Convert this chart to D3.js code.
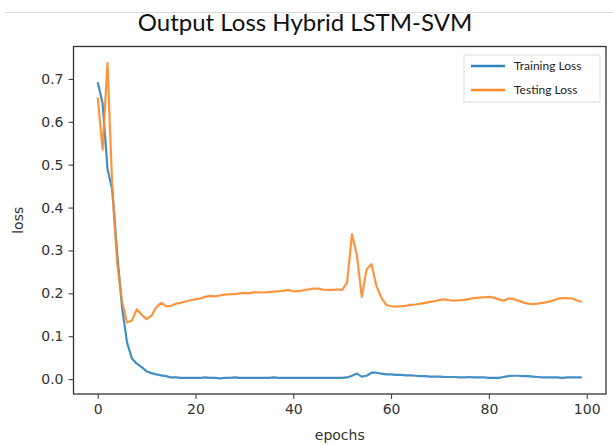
<!DOCTYPE html>
<meta charset="utf-8">
<style>
body { margin: 0; background: #fff; }
svg { display: block; }
.tick text { font-family: "DejaVu Sans", sans-serif; font-size: 14px; fill: #333; }
.tick line { stroke: #333; }
.domain { display: none; }
.lbl { font-family: "DejaVu Sans", sans-serif; font-size: 14px; fill: #333; }
.title { font-family: Lato, "Open Sans", sans-serif; font-size: 24px; fill: #111; }
.legend text { font-family: Lato, "Open Sans", sans-serif; font-size: 12px; fill: #222; }
</style>
<svg width="613" height="445"></svg>
<script src="https://d3js.org/d3.v7.min.js"></script>
<script>

var epochs = d3.range(0, 100);

var trainLoss = [
  0.692, 0.643, 0.49, 0.44, 0.29, 0.165, 0.085, 0.048, 0.036, 0.028,
  0.018, 0.014, 0.011, 0.009, 0.007, 0.004, 0.004, 0.003, 0.003, 0.003,
  0.003, 0.003, 0.004, 0.003, 0.003, 0.002, 0.003, 0.003, 0.004, 0.003,
  0.003, 0.003, 0.003, 0.003, 0.003, 0.003, 0.004, 0.003, 0.003, 0.003,
  0.003, 0.003, 0.003, 0.003, 0.003, 0.003, 0.003, 0.003, 0.003, 0.003,
  0.003, 0.004, 0.008, 0.013, 0.006, 0.008, 0.015, 0.015, 0.013, 0.011,
  0.011, 0.010, 0.010, 0.009, 0.009, 0.008, 0.007, 0.007, 0.006, 0.006,
  0.006, 0.005, 0.005, 0.005, 0.004, 0.004, 0.005, 0.004, 0.004, 0.004,
  0.003, 0.003, 0.003, 0.005, 0.007, 0.008, 0.008, 0.007, 0.007, 0.006,
  0.005, 0.004, 0.004, 0.004, 0.004, 0.003, 0.004, 0.004, 0.004, 0.004
];

var testLoss = [
  0.657, 0.535, 0.737, 0.44, 0.27, 0.18, 0.132, 0.137, 0.163, 0.15,
  0.14, 0.148, 0.168, 0.178, 0.17, 0.171, 0.176, 0.178, 0.181, 0.184,
  0.186, 0.188, 0.192, 0.194, 0.193, 0.195, 0.197, 0.198, 0.198, 0.2,
  0.201, 0.2, 0.203, 0.202, 0.202, 0.203, 0.204, 0.205, 0.206, 0.208,
  0.205, 0.205, 0.207, 0.209, 0.211, 0.211, 0.209, 0.208, 0.208, 0.209,
  0.208, 0.225, 0.338, 0.29, 0.192, 0.256, 0.268, 0.217, 0.19, 0.173,
  0.17, 0.169, 0.17, 0.171, 0.173, 0.174, 0.176, 0.178, 0.18, 0.182,
  0.185, 0.186, 0.184, 0.183, 0.184, 0.185, 0.187, 0.189, 0.19, 0.191,
  0.192, 0.19, 0.186, 0.183, 0.188, 0.187, 0.183, 0.179, 0.176, 0.175,
  0.176, 0.178, 0.18, 0.183, 0.187, 0.189, 0.189, 0.188, 0.184, 0.18
];

var xTicks = [0, 20, 40, 60, 80, 100];
var yTicks = [0.0, 0.1, 0.2, 0.3, 0.4, 0.5, 0.6, 0.7];
var seriesNames = ["Training Loss", "Testing Loss"];
var seriesColors = ["#2f82bd", "#fd8a2a"];

var svg = d3.select("svg");

// faint rule from the original figure
svg.append("line").attr("x1", 5).attr("x2", 613).attr("y1", 12.5).attr("y2", 12.5)
  .attr("stroke", "#ddd").attr("stroke-width", 1);

svg.append("text").attr("class", "title")
  .attr("x", 305).attr("y", 31).attr("text-anchor", "middle")
  .text("Output Loss Hybrid LSTM-SVM");

var plotL = 73.5, plotR = 606, plotT = 46.5, plotB = 394;

var x = d3.scaleLinear().domain([-4.95, 103.95]).range([plotL, plotR]);
var y = d3.scaleLinear().domain([-0.0346, 0.7755]).range([plotB, plotT]);

svg.append("g").attr("transform", "translate(0," + plotB + ")")
  .call(d3.axisBottom(x).tickValues(xTicks).tickSize(5).tickPadding(5).tickFormat(d3.format("d")));

svg.append("g").attr("transform", "translate(" + plotL + ",0)")
  .call(d3.axisLeft(y).tickValues(yTicks).tickSize(5).tickPadding(5).tickFormat(d3.format(".1f")));

svg.append("rect").attr("x", plotL).attr("y", plotT)
  .attr("width", plotR - plotL).attr("height", plotB - plotT)
  .attr("fill", "none").attr("stroke", "#333").attr("stroke-width", 1.3);

var line = d3.line().x(function(d) { return x(d[0]); }).y(function(d) { return y(d[1]); });

[trainLoss, testLoss].forEach(function(vals, i) {
  svg.append("path")
    .datum(epochs.map(function(e, j) { return [e, vals[j]]; }))
    .attr("d", line)
    .attr("fill", "none")
    .attr("stroke", seriesColors[i])
    .attr("stroke-width", 2.2)
    .attr("stroke-linejoin", "round")
    .attr("opacity", 0.9);
});

svg.append("text").attr("class", "lbl")
  .attr("x", (plotL + plotR) / 2).attr("y", 440).attr("text-anchor", "middle")
  .text("epochs");

svg.append("text").attr("class", "lbl")
  .attr("transform", "translate(23," + (plotT + plotB) / 2 + ") rotate(-90)")
  .attr("text-anchor", "middle")
  .text("loss");

var legend = svg.append("g").attr("class", "legend");
legend.append("rect").attr("x", 464).attr("y", 55).attr("width", 136).attr("height", 47)
  .attr("fill", "#fff").attr("stroke", "#ddd");

seriesNames.forEach(function(name, i) {
  var ly = 66 + i * 24;
  legend.append("line").attr("x1", 471).attr("x2", 505).attr("y1", ly).attr("y2", ly)
    .attr("stroke", seriesColors[i]).attr("stroke-width", 2.5);
  legend.append("text").attr("x", 514).attr("y", ly + 4).text(name);
});

</script>
